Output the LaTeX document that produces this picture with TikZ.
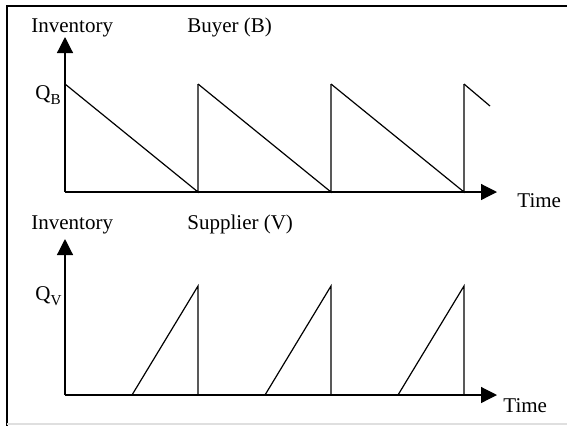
\documentclass[tikz,border=0pt]{standalone}
\usepackage{fontspec}
\setmainfont{Liberation Serif}
\usetikzlibrary{arrows.meta}

\newcommand{\lowsub}[1]{\raisebox{-2.6pt}{\fontsize{7.6}{8}\selectfont #1}}

\begin{document}
\begin{tikzpicture}[
    x=0.5pt, y=-0.5pt,
    frame/.style={draw, line width=1pt},
    axis/.style={-{Triangle[length=8pt,width=8pt]}, line width=0.6pt},
    curve/.style={line width=0.6pt},
    txt/.style={font=\fontsize{10.5}{12}\selectfont, inner sep=0pt, anchor=base west}
]
\useasboundingbox (0,0) rectangle (567,425);
\clip (0,0) rectangle (567,425);
\draw[frame] (7,6) rectangle (600,440);
\draw[gray!25, line width=0.6pt] (7,424) -- (567,424);

% buyer
\coordinate (oB) at (65,192);
\coordinate (yB) at (65,37);
\coordinate (xB) at (497,192);
\draw[axis] (oB) -- (yB);
\draw[axis] (oB) -- (xB);
\foreach \t in {0,133,266} {
    \draw[curve] (65+\t,84) -- (198+\t,192) -- (198+\t,84);
}
\draw[curve] (464,84) -- (490,106);

\node[txt] (invB) at (31,32) {Inventory};
\node[txt] (buyer) at (187,32) {Buyer (B)};
\node[txt] (qB) at (35,99) {Q\lowsub{B}};
\node[txt] (timeB) at (517,207) {Time};

% supplier
\coordinate (oV) at (65,395);
\coordinate (yV) at (65,239);
\coordinate (xV) at (497,395);
\draw[axis] (oV) -- (yV);
\draw[axis] (oV) -- (xV);
\foreach \t in {0,133,266} {
    \draw[curve] (132+\t,395) -- (198+\t,286) -- (198+\t,395);
}

\node[txt] (invV) at (31,229) {Inventory};
\node[txt] (supplier) at (187,229) {Supplier (V)};
\node[txt] (qV) at (35,300) {Q\lowsub{V}};
\node[txt] (timeV) at (503,412) {Time};
\end{tikzpicture}
\end{document}
